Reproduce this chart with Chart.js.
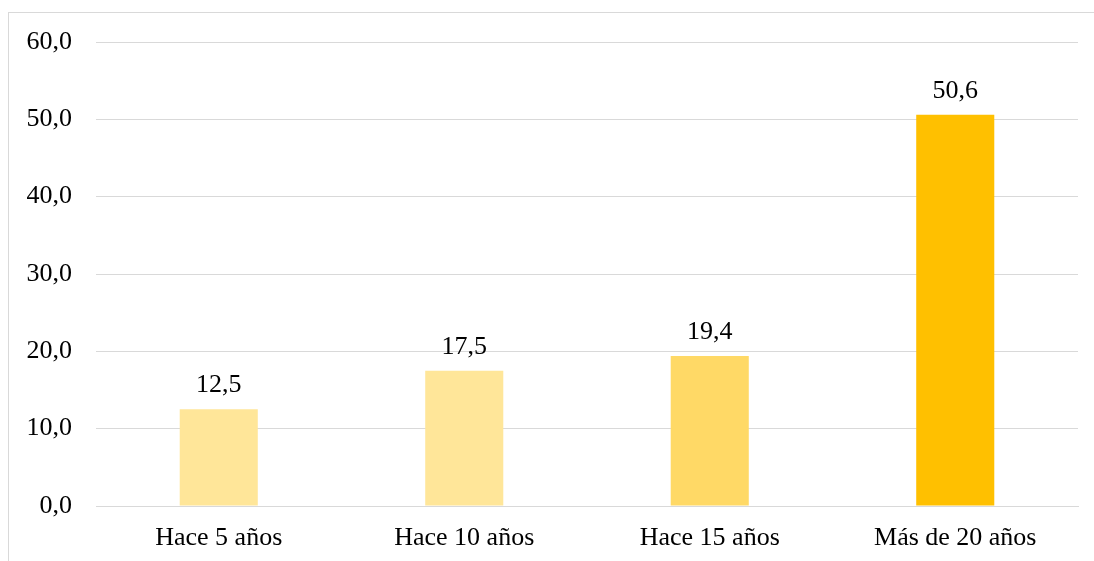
<!DOCTYPE html>
<html>
<head>
<meta charset="utf-8">
<script src="https://cdn.jsdelivr.net/npm/chart.js@4/dist/chart.umd.min.js"></script>
<style>
  html, body { margin: 0; padding: 0; background: #fff; overflow: hidden; }
  #frame { position: absolute; left: 8px; top: 12px; width: 1100px; height: 600px; border: 1px solid #d9d9d9; box-sizing: border-box; }
  #wrap { position: absolute; left: 0; top: 0; width: 1094px; height: 561px; }
</style>
</head>
<body>
<div id="frame"></div>
<div id="wrap"><canvas id="c" width="1094" height="561"></canvas></div>
<script>
const categories = ["Hace 5 años", "Hace 10 años", "Hace 15 años", "Más de 20 años"];
const values = [12.5, 17.5, 19.4, 50.6];
const barColors = ["#FFE699", "#FFE699", "#FFD966", "#FFC000"];
const yTicks = [0, 10, 20, 30, 40, 50, 60];

const fmt = v => v.toFixed(1).replace('.', ',');
const FONT = "'Liberation Serif', 'Times New Roman', serif";
const FSIZE = 26;

const labelPlugin = {
  id: 'valueLabels',
  afterDatasetsDraw(chart) {
    const ctx = chart.ctx;
    const meta = chart.getDatasetMeta(0);
    ctx.save();
    ctx.font = FSIZE + "px " + FONT;
    ctx.fillStyle = "#000";
    ctx.textAlign = "center";
    ctx.textBaseline = "alphabetic";
    meta.data.forEach((bar, i) => {
      ctx.fillText(fmt(values[i]), bar.x, bar.y - 17);
    });
    ctx.restore();
  }
};

new Chart(document.getElementById('c'), {
  type: 'bar',
  data: {
    labels: categories,
    datasets: [{
      data: values,
      backgroundColor: barColors,
      borderWidth: 0,
      barPercentage: 0.318,
      categoryPercentage: 1.0
    }]
  },
  options: {
    responsive: false,
    animation: false,
    devicePixelRatio: 1,
    layout: { padding: { left: 0, right: 16, top: 42, bottom: 0 } },
    plugins: { legend: { display: false }, tooltip: { enabled: false } },
    scales: {
      x: {
        afterFit: axis => { axis.height = 55; },
        grid: { display: false, drawTicks: false },
        border: { display: true, color: '#d9d9d9', width: 1 },
        ticks: { color: '#000', font: { family: FONT, size: FSIZE, lineHeight: 1.2 }, padding: 17, maxRotation: 0 }
      },
      y: {
        min: yTicks[0],
        max: yTicks[yTicks.length - 1],
        afterBuildTicks: axis => { axis.ticks = yTicks.map(v => ({ value: v })); },
        afterFit: axis => { axis.width = 96; },
        grid: { color: '#d9d9d9', lineWidth: 1, drawTicks: false },
        border: { display: false },
        ticks: { color: '#000', font: { family: FONT, size: FSIZE }, padding: 24, callback: v => fmt(v) }
      }
    }
  },
  plugins: [labelPlugin]
});
</script>
</body>
</html>
